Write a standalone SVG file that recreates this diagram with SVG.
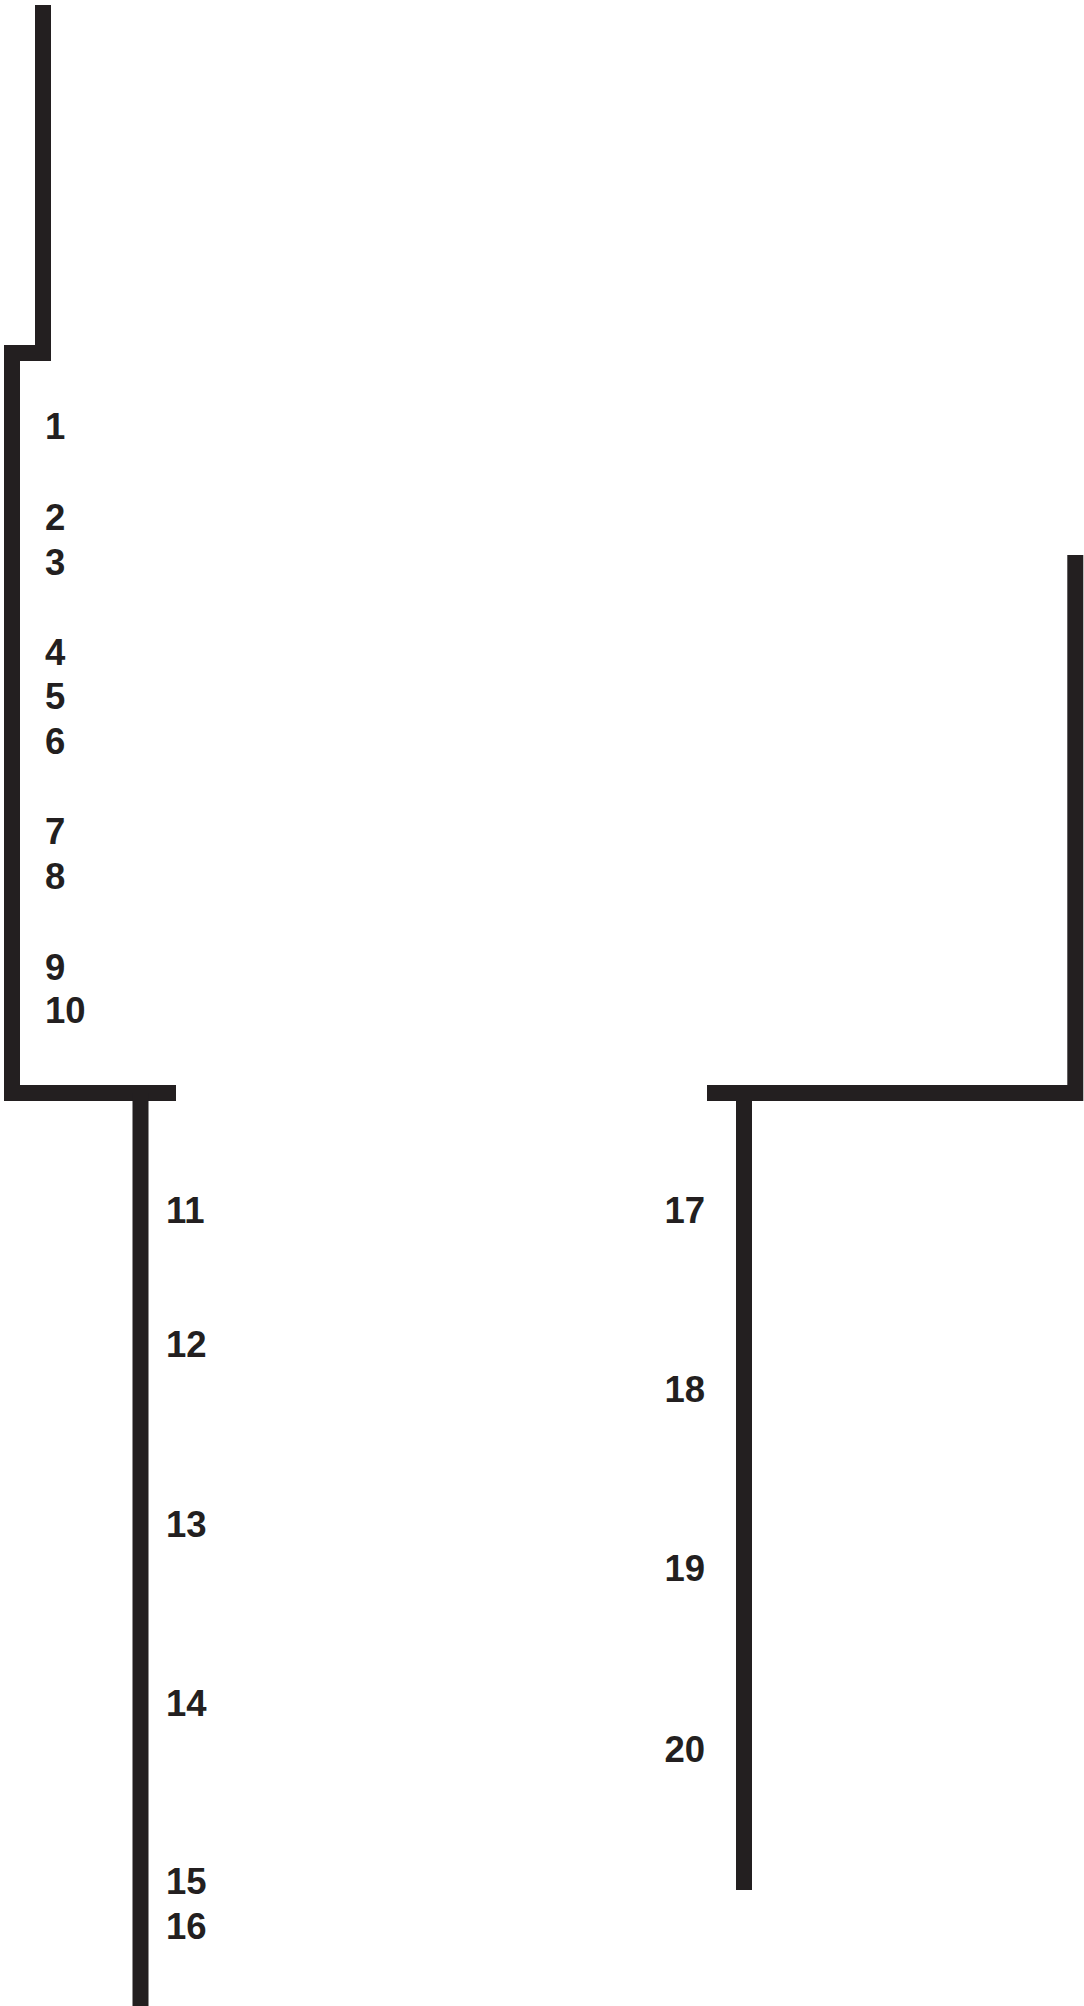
<svg xmlns="http://www.w3.org/2000/svg" width="1084" height="2006" viewBox="0 0 1084 2006">
<style>
.ln{fill:none;stroke:#231f20;stroke-width:16;stroke-linejoin:miter;stroke-linecap:butt}
.lb{font-family:"Liberation Sans",Arial,sans-serif;font-weight:bold;font-size:36.5px;fill:#231f20}
.e{text-anchor:end}
</style>
<rect width="1084" height="2006" fill="#ffffff"/>
<g id="connectors">
<path class="ln" d="M43,5 V353 H12 V1093 H176"/>
<path class="ln" d="M140.5,1093 V2006"/>
<path class="ln" d="M1075.3,555 V1093 H707"/>
<path class="ln" d="M744,1101 V1890"/>
</g>
<g id="labels-a">
<text class="lb" x="45" y="439">1</text>
<text class="lb" x="45" y="530">2</text>
<text class="lb" x="45" y="574.5">3</text>
<text class="lb" x="45" y="664.5">4</text>
<text class="lb" x="45" y="709">5</text>
<text class="lb" x="45" y="754">6</text>
<text class="lb" x="45" y="844">7</text>
<text class="lb" x="45" y="889">8</text>
<text class="lb" x="45" y="979.5">9</text>
<text class="lb" x="45" y="1023">10</text>
</g>
<g id="labels-b">
<text class="lb" x="166" y="1223">11</text>
<text class="lb" x="166" y="1357">12</text>
<text class="lb" x="166" y="1536.5">13</text>
<text class="lb" x="166" y="1715.5">14</text>
<text class="lb" x="166" y="1894">15</text>
<text class="lb" x="166" y="1939">16</text>
</g>
<g id="labels-c">
<text class="lb e" x="705" y="1223">17</text>
<text class="lb e" x="705" y="1402">18</text>
<text class="lb e" x="705" y="1581">19</text>
<text class="lb e" x="705" y="1762">20</text>
</g>
</svg>
